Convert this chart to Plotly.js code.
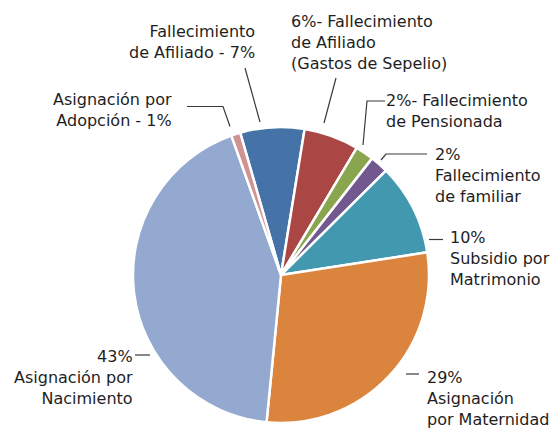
<!DOCTYPE html>
<html>
<head>
<meta charset="utf-8">
<script src="https://cdn.plot.ly/plotly-3.0.1.min.js"></script>
<style>html,body{margin:0;padding:0;background:#fff;}#chart{width:557px;height:430px;}</style>
</head>
<body>
<div id="chart"></div>
<script>
// Data (clockwise order, starting with "Fallecimiento de Afiliado")
const categories = [
  "Fallecimiento de Afiliado",
  "Fallecimiento de Afiliado (Gastos de Sepelio)",
  "Fallecimiento de Pensionada",
  "Fallecimiento de familiar",
  "Subsidio por Matrimonio",
  "Asignación por Maternidad",
  "Asignación por Nacimiento",
  "Asignación por Adopción"
];
const values = [7, 6, 2, 2, 10, 29, 43, 1];
const sliceColors = ["#4572A7", "#AA4643", "#89A54E", "#71588F", "#4198AF", "#DB843D", "#93A9CF", "#D19392"];
const labelTexts = [
  "Fallecimiento<br>de Afiliado - 7%",
  "6%- Fallecimiento<br>de Afiliado<br>(Gastos de Sepelio)",
  "2%- Fallecimiento<br>de Pensionada",
  "2%<br>Fallecimiento<br>de familiar",
  "10%<br>Subsidio por<br>Matrimonio",
  "29%<br>Asignación<br>por Maternidad",
  "43%<br>Asignación por<br>Nacimiento",
  "Asignación por<br>Adopción - 1%"
];

const W = 557, H = 430;
const px = x => x / W;
const py = y => 1 - y / H;

// label layout: [x, top y, anchor]
const labelPos = [
  [256, 21, "right"],
  [290, 11, "left"],
  [385, 90, "left"],
  [434, 144, "left"],
  [449, 227, "left"],
  [426, 367, "left"],
  [134, 346, "right"],
  [173, 89, "right"]
];
const leaders = [
  [[245,68],[260,122]],
  [[336,78],[324,123]],
  [[385,101],[367,101],[363,145]],
  [[427,154],[386,154],[381,160]],
  [[429,239.5],[443,239.5]],
  [[406,374],[419,374]],
  [[135,355],[150,355]],
  [[187,106.5],[223,106.5],[230,126.5]]
];

const annotations = labelTexts.map((t, i) => ({
  text: t,
  xref: "paper", yref: "paper",
  x: px(labelPos[i][0]), y: py(labelPos[i][1]),
  xanchor: labelPos[i][2], yanchor: "top",
  align: labelPos[i][2],
  showarrow: false,
  borderpad: 0,
  font: {family: "DejaVu Sans, Verdana, sans-serif", size: 16, color: "#1e1e1e"}
}));

const shapes = leaders.map(pts => ({
  type: "path",
  xref: "paper", yref: "paper",
  path: pts.map((p, j) => (j ? "L" : "M") + px(p[0]) + "," + py(p[1])).join(" "),
  line: {color: "#3a3a3a", width: 1.2}
}));

const cx = 281, cy = 275, r = 148;
const trace = {
  type: "pie",
  labels: categories,
  values: values,
  sort: false,
  direction: "clockwise",
  rotation: -16,
  textinfo: "none",
  hoverinfo: "label+percent",
  marker: {colors: sliceColors, line: {color: "#ffffff", width: 2.5}},
  domain: {x: [px(cx - r), px(cx + r)], y: [py(cy + r), py(cy - r)]},
  showlegend: false
};

Plotly.newPlot("chart", [trace], {
  width: W, height: H,
  margin: {l: 0, r: 0, t: 0, b: 0},
  paper_bgcolor: "#ffffff",
  showlegend: false,
  annotations: annotations,
  shapes: shapes
}, {displayModeBar: false, staticPlot: true});
</script>
</body>
</html>
